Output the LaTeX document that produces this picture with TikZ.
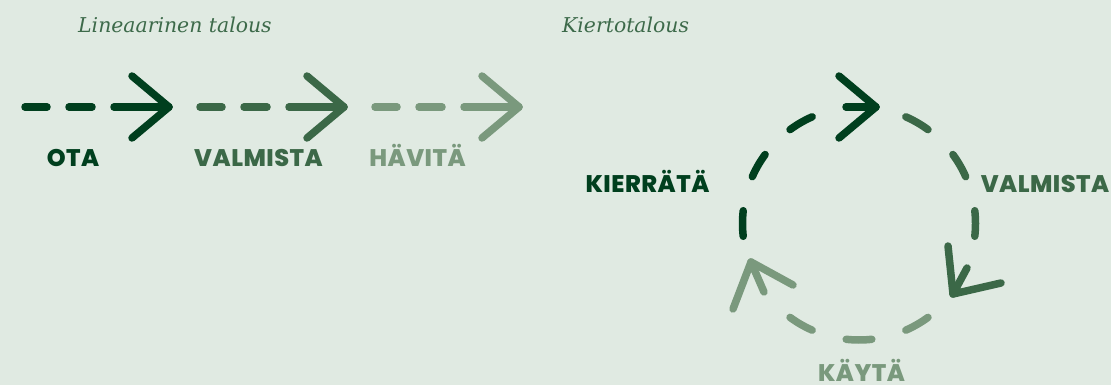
\documentclass[tikz,border=0pt]{standalone}
\usepackage{fontspec}
\newfontfamily\lblfont{Poppins}[BoldFont={Poppins ExtraBold}, LetterSpace=2]
\newfontfamily\ttlfont{DejaVu Serif}
\definecolor{bgc}{HTML}{E0EAE2}
\definecolor{dk}{HTML}{003F1E}
\definecolor{md}{HTML}{3B6847}
\definecolor{lt}{HTML}{7A997D}
\definecolor{ttl}{HTML}{3D6A4A}
\tikzset{
  ln/.style={line width=7.5pt, line cap=round, line join=round},
  lbl/.style={inner sep=0pt, anchor=base, text depth=0pt, font=\lblfont\bfseries\fontsize{24}{24}\selectfont},
  ttlstyle/.style={inner sep=0pt, anchor=base west, text=ttl, font=\ttlfont\itshape\fontsize{20.4}{20.4}\selectfont}
}
\begin{document}
\begin{tikzpicture}[x=1pt,y=-1pt]
\useasboundingbox[fill=bgc] (0,0) rectangle (1111,385);
% titles
\node[ttlstyle] (t1) at (78,33) {Lineaarinen talous};
\node[ttlstyle] (t2) at (562,33) {Kiertotalous};
% linear arrows
\foreach \o/\c in {0/dk,175/md,350/lt}{
  \draw[ln,color=\c] (25+\o,107) -- (47+\o,107);
  \draw[ln,color=\c] (69+\o,107) -- (92+\o,107);
  \draw[ln,color=\c] (114+\o,107) -- (169+\o,107);
  \draw[ln,color=\c] (132+\o,76) -- (169+\o,107) -- (132+\o,138);
}
\node[lbl,text=dk] (ota) at (73,167) {OTA};
\node[lbl,text=md] (valm1) at (258.5,167) {VALMISTA};
\node[lbl,text=lt] (havita) at (417.5,167) {HÄVITÄ};
% circle
\foreach \a/\c in {180/dk,210/dk,240/dk,300/md,330/md,360/md,60/lt,90/lt,120/lt}{
  \draw[ln,color=\c] plot[domain=\a-6.3:\a+6.3,samples=9] ({859+116.5*cos(\x)},{223.5+116.5*sin(\x)});
}
\draw[ln,color=dk] (846,107) -- (876,107);
\draw[ln,color=dk] (839,76) -- (876,107) -- (839,138);
\draw[ln,color=md] (948,246) -- (953,294);
\draw[ln,color=md] (967,268) -- (953,294) -- (1001,283);
\draw[ln,color=lt] (793,285) -- (751,262);
\draw[ln,color=lt] (764,292) -- (751,262) -- (733,309);
\node[lbl,text=dk] (kierr) at (647.5,192) {KIERRÄTÄ};
\node[lbl,text=md] (valm2) at (1045,192) {VALMISTA};
\node[lbl,text=lt] (kayta) at (861.5,381.5) {KÄYTÄ};
\end{tikzpicture}
\end{document}
